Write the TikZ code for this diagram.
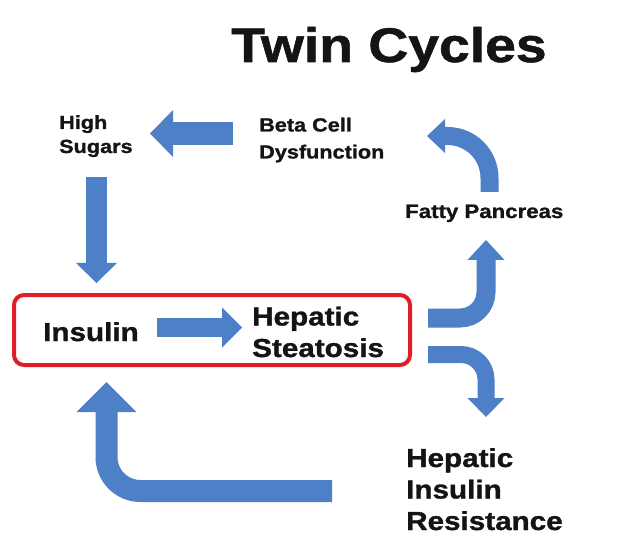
\documentclass[tikz,border=0pt]{standalone}
\usepackage{fontspec}
\setmainfont{Liberation Sans}[FakeStretch=1.14, BoldFeatures={FakeBold=1.2}]
\usetikzlibrary{arrows.meta}
\definecolor{ablue}{RGB}{78,128,200}
\definecolor{bred}{RGB}{224,30,42}
\definecolor{ink}{RGB}{20,20,20}
\begin{document}
\begin{tikzpicture}[x=1pt,y=-1pt,
  lbl/.style={inner sep=0pt, anchor=base west, align=left, text=ink,
    font=\bfseries\fontsize{19}{24}\selectfont},
  big/.style={lbl, font=\bfseries\fontsize{26}{31.5}\selectfont},
  barrow/.style={draw=ablue, line width=#1, line cap=butt},
]
\useasboundingbox (0,0) rectangle (640,556);
\fill[white] (0,0) rectangle (640,556);

% texts (anchor = baseline of the last line)
\node[lbl, font=\bfseries\fontsize{48.5}{58}\selectfont] (title) at (231,62) {Twin Cycles};
\node[lbl] (hs) at (59,153) {High\\Sugars};
\node[lbl, font=\bfseries\fontsize{19}{27}\selectfont] (bcd) at (259,158.5) {Beta Cell\\Dysfunction};
\node[lbl, font=\bfseries\fontsize{19.5}{24}\selectfont] (fp) at (405,218) {Fatty Pancreas};
\node[draw=bred, line width=4pt, rounded corners=10pt, minimum width=396pt,
      minimum height=70pt, inner sep=0pt] (box) at (212,330) {};
\node[big] (ins) at (43,341) {Insulin};
\node[big] (hst) at (252,357) {Hepatic\\Steatosis};
\node[big] (hir) at (406,530) {Hepatic\\Insulin\\Resistance};

% arrow end points
\coordinate (a1s) at (233,133.5); \coordinate (a1e) at (150,133.5);
\coordinate (a2s) at (96.5,177);  \coordinate (a2e) at (96.5,283);
\coordinate (a3s) at (157,327.5); \coordinate (a3e) at (242,327.5);
\coordinate (a4s) at (332,491);   \coordinate (a4e) at (106.5,382);
\coordinate (a5s) at (428,318);   \coordinate (a5e) at (486,240);
\coordinate (a6s) at (428,354.5); \coordinate (a6e) at (486,417);
\coordinate (a7s) at (489.5,192); \coordinate (a7e) at (427,136);

% block arrows
\draw[barrow=23pt, -{Triangle[width=47pt,length=23pt,line width=0pt]}] (a1s) -- (a1e);
\draw[barrow=21pt, -{Triangle[width=41pt,length=20pt,line width=0pt]}] (a2s) -- (a2e);
\draw[barrow=19pt, -{Triangle[width=40pt,length=20pt,line width=0pt]}] (a3s) -- (a3e);
\draw[barrow=22pt, rounded corners=34pt, -{Triangle[width=60pt,length=30pt,line width=0pt]}] (a4s) -| (a4e);
\draw[barrow=19pt, rounded corners=26pt, -{Triangle[width=37pt,length=20pt,line width=0pt]}] (a5s) -| (a5e);
\draw[barrow=17pt, rounded corners=25pt, -{Triangle[width=37pt,length=19pt,line width=0pt]}] (a6s) -| (a6e);
\draw[barrow=18pt, rounded corners=42pt, -{Triangle[width=34pt,length=18pt,line width=0pt]}] (a7s) |- (a7e);
\end{tikzpicture}
\end{document}
